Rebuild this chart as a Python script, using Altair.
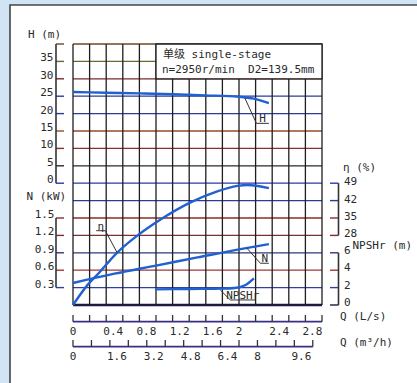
import altair as alt
import pandas as pd

# ---------------- data ----------------
q_h = [0, 0.4, 0.8, 1.2, 1.6, 2.0, 2.18, 2.36]
h_m = [26.2, 26.0, 25.8, 25.55, 25.25, 24.85, 24.3, 23.0]

q_eta = [0, 0.21, 0.27, 0.53, 0.79, 1.05, 1.41, 1.73, 1.98, 2.10, 2.36]
eta_pct = [0, 9.4, 11.4, 21.0, 28.3, 34.3, 41.2, 45.6, 47.9, 48.3, 47.0]

q_n = [0, 0.5, 1.0, 1.5, 2.0, 2.36]
n_kw = [0.38, 0.54, 0.68, 0.82, 0.96, 1.05]

q_npsh = [0.99, 1.4, 1.8, 1.95, 2.08, 2.18]
npsh_m = [1.8, 1.84, 1.88, 1.95, 2.3, 3.05]

h_ticks = [0, 5, 10, 15, 20, 25, 30, 35, 40]
h_labels = ["0", "5", "10", "15", "20", "25", "30", "35", ""]
n_ticks = [0.3, 0.6, 0.9, 1.2, 1.5]
n_labels = ["0.3", "0.6", "0.9", "1.2", "1.5"]
eta_ticks = [28, 35, 42, 49]
eta_labels = ["28", "35", "42", "49"]
npsh_ticks = [0, 2, 4, 6]
npsh_labels = ["0", "2", "4", "6"]
qls_ticks = [0, 0.2, 0.4, 0.6, 0.8, 1.0, 1.2, 1.4, 1.6, 1.8, 2.0, 2.2, 2.4, 2.6, 2.8, 3.0]
qls_label_vals = [0, 0.4, 0.8, 1.2, 1.6, 2.0, 2.4, 2.8]
qls_labels = ["0", "0.4", "0.8", "1.2", "1.6", "2", "2.4", "2.8"]
qm3_ticks = [0, 0.8, 1.6, 2.4, 3.2, 4.0, 4.8, 5.6, 6.4, 7.2, 8.0, 8.8, 9.6, 10.4]
qm3_label_vals = [0, 1.6, 3.2, 4.8, 6.4, 8.0, 9.6]
qm3_labels = ["0", "1.6", "3.2", "4.8", "6.4", "8", "9.6"]

grid_rows = list(range(16))
row_colors = ["#1c1a40", "#3040a0", "#a03838", "#303878", "#7a3030", "#8a2c2c",
              "#2c3a9a", "#2c3aa8", "#2a2a2a", "#8a3030", "#9a4a2a", "#2c3aa0",
              "#2c3aa0", "#7a2a2a", "#6a6a30", "#6a4a2a"]

title1 = "单级 single-stage"
title2 = "n=2950r/min\u00a0\u00a0D2=139.5mm"

# curve-label leader lines (Q, grid row)
leaders = pd.DataFrame({
    "g": ["H"] * 3 + ["eta"] * 3 + ["N"] * 3 + ["NPSHr"] * 3,
    "i": [0, 1, 2] * 4,
    "q": [2.07, 2.21, 2.36, 0.28, 0.39, 0.53, 2.096, 2.257, 2.36, 1.775, 1.895, 2.20],
    "r": [11.9, 10.44, 10.44, 4.27, 4.27, 3.02, 3.26, 2.40, 2.40, 0.86, 0.29, 0.29],
})
curve_labels = pd.DataFrame({
    "t": ["H", "η", "N", "NPSHr"],
    "q": [2.285, 0.335, 2.31, 2.045],
    "r": [10.44, 4.27, 2.40, 0.29],
})

# ---------------- styling ----------------
FONT = "DejaVu Sans Mono, Noto Sans CJK SC"
TXT = "#2a2a2a"
BLUE = "#2060d0"

X = alt.X("q:Q", scale=alt.Scale(domain=[0, 3], nice=False, zero=False), axis=None)
Y = alt.Y("r:Q", scale=alt.Scale(domain=[0, 15], nice=False, zero=False), axis=None)
COL = alt.Color("rc:O", scale=alt.Scale(domain=grid_rows, range=row_colors), legend=None)

one = alt.Data(values=[{"a": 1}])

panel = alt.Chart(one).mark_rect(fill="white", stroke="#444444", strokeWidth=1.6).encode(
    x=alt.value(-63), x2=alt.value(420), y=alt.value(-39), y2=alt.value(420))

# horizontal grid
hdf = pd.DataFrame({"rc": grid_rows, "r": grid_rows, "q": 0, "q2": 3})
hgrid = alt.Chart(hdf).mark_rule().encode(
    x=X, x2="q2:Q", y=Y, color=COL,
    strokeWidth=alt.condition("datum.rc == 0", alt.value(2.6), alt.value(1.3)))

# vertical grid
vdf = pd.DataFrame({"q": qls_ticks, "r": 0, "r2": 15})
vgrid = alt.Chart(vdf).mark_rule(color="#1e1e1e", strokeWidth=1.3).encode(x=X, y=Y, y2="r2:Q")

# title box
boxdf = pd.DataFrame({"q": [1.0], "q2": [3.0], "r": [13.0], "r2": [15.0]})
box = alt.Chart(boxdf).mark_rect(fill="white", stroke="#1e1e1e", strokeWidth=1.3).encode(
    x=X, x2="q2:Q", y=Y, y2="r2:Q")
tdf = pd.DataFrame({"t": [title1, title2], "q": [1.084, 1.072], "r": [14.37, 13.5]})
titles = alt.Chart(tdf).mark_text(font=FONT, fontSize=11, color=TXT, align="left",
                                   baseline="middle").encode(x=X, y=Y, text="t:N")

# curves
def curve(qs, vs, expr):
    df = pd.DataFrame({"q": qs, "v": vs})
    return alt.Chart(df).transform_calculate(r=expr).mark_line(
        color=BLUE, strokeWidth=2.4, interpolate="monotone").encode(x=X, y=Y)

c_h = curve(q_h, h_m, "7 + datum.v / 5")
c_eta = curve(q_eta, eta_pct, "datum.v / 7")
c_n = curve(q_n, n_kw, "datum.v / 0.3")
c_npsh = curve(q_npsh, npsh_m, "datum.v / 2")

lead = alt.Chart(leaders).mark_line(color="#333333", strokeWidth=1).encode(
    x=X, y=Y, detail="g:N", order="i:Q")
clab = alt.Chart(curve_labels).mark_text(font=FONT, fontSize=11, color=TXT, align="center",
                                          baseline="alphabetic", dy=-1).encode(x=X, y=Y, text="t:N")

# vertical bracket axes
def bracket(ticks, labels, expr, xline, xtick, xlab, align, dy):
    df = pd.DataFrame({"v": ticks, "label": labels})
    base = alt.Chart(df).transform_calculate(r=expr).transform_calculate(rc="round(datum.r)")
    ticks_l = base.mark_rule(strokeWidth=1.4).encode(
        x=alt.value(xline), x2=alt.value(xtick), y=Y, color=COL)
    line = base.transform_aggregate(r="min(r)", r2="max(r)").mark_rule(
        color="#333333", strokeWidth=1.6).encode(x=alt.value(xline), y=Y, y2="r2:Q")
    labs = base.mark_text(font=FONT, fontSize=11, color=TXT, align=align,
                          baseline="middle", dy=dy).encode(x=alt.value(xlab), y=Y, text="label:N")
    return [ticks_l, line, labs]

ax_h = bracket(h_ticks, h_labels, "7 + datum.v / 5", -17, -9, -19.5, "right", -3)
ax_n = bracket(n_ticks, n_labels, "datum.v / 0.3", -17, -9, -18.5, "right", -3)
ax_eta = bracket(eta_ticks, eta_labels, "datum.v / 7", 265.5, 257, 271, "left", -1)
ax_npsh = bracket(npsh_ticks, npsh_labels, "datum.v / 2", 265.5, 257, 271, "left", -2)

# horizontal flow axes
def flow_axis(ticks, lvals, labels, factor, ya, yt, yl):
    tdf_ = pd.DataFrame({"v": ticks})
    base = alt.Chart(tdf_).transform_calculate(q="datum.v / %s" % factor)
    tk = base.mark_rule(color="#333333", strokeWidth=1.3).encode(
        x=X, y=alt.value(yt), y2=alt.value(ya))
    ln = base.transform_aggregate(q="min(q)", q2="max(q)").mark_rule(
        color="#3a2e8c", strokeWidth=1.8).encode(x=X, x2="q2:Q", y=alt.value(ya))
    ldf = pd.DataFrame({"v": lvals, "label": labels})
    lb = alt.Chart(ldf).transform_calculate(q="datum.v / %s" % factor)
    dec = lb.transform_filter("indexof(datum.label, '.') >= 0").mark_text(
        font=FONT, fontSize=11, color=TXT, align="center", baseline="middle", dx=7).encode(
        x=X, y=alt.value(yl), text="label:N")
    integ = lb.transform_filter("indexof(datum.label, '.') < 0").mark_text(
        font=FONT, fontSize=11, color=TXT, align="center", baseline="middle").encode(
        x=X, y=alt.value(yl), text="label:N")
    return [ln, tk, dec, integ]

ax_qls = flow_axis(qls_ticks, qls_label_vals, qls_labels, "1", 277.7, 271, 288)
ax_qm3 = flow_axis(qm3_ticks, qm3_label_vals, qm3_labels, "3.6", 302.7, 296, 312.5)

# axis titles
def atitle(text, x, y):
    return alt.Chart(one).mark_text(font=FONT, fontSize=11, color=TXT, align="left",
                                    baseline="middle", text=text).encode(
        x=alt.value(x), y=alt.value(y))

titles_ax = [
    atitle("H (m)", -45, -9),
    atitle("N (kW)", -46.5, 153),
    atitle("η (%)", 270, 124),
    atitle("NPSHr (m)", 279.5, 202),
    atitle("Q (L/s)", 267, 273),
    atitle("Q (m³/h)", 267, 299),
]

layers = ([panel, hgrid, vgrid, box, titles]
          + ax_h + ax_n + ax_eta + ax_npsh + ax_qls + ax_qm3
          + [c_h, c_eta, c_n, c_npsh, lead, clab] + titles_ax)

chart = alt.layer(*layers).properties(
    width=249, height=261,
    autosize=alt.AutoSizeParams(type="none"),
    padding={"left": 73, "top": 44, "right": 95, "bottom": 78},
    background="#d0e4f6",
).configure_view(stroke=None)

chart.save("out.html", embed_options={"renderer": "svg", "actions": False})
